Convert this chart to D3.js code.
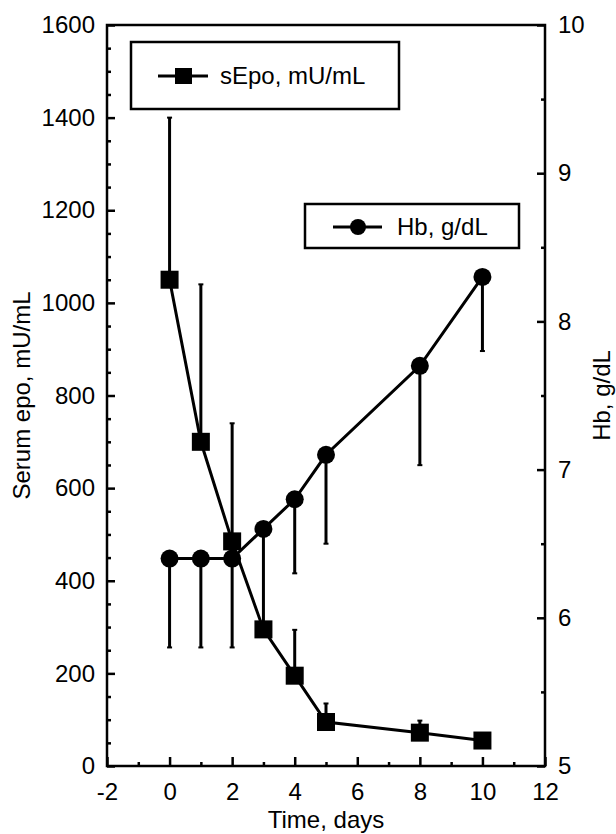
<!DOCTYPE html>
<html>
<head>
<meta charset="utf-8">
<script src="https://cdn.jsdelivr.net/npm/d3@7"></script>
<style>
  body { margin: 0; background: #fff; }
  svg { display: block; font-family: "Liberation Sans", Arial, Helvetica, sans-serif; }
  .axis text { font-size: 24px; fill: #000; }
  .axis line { stroke: #000; stroke-width: 2.5; }
</style>
</head>
<body>
<svg id="chart" width="616" height="834"></svg>
<script>
// time points (days) and the two measured series
const days = [0, 1, 2, 3, 4, 5, 8, 10];
const sEpo = [1050, 700, 485, 295, 195, 95, 72, 55];
const sEpoUpper = [1400, 1040, 740, null, 294, 135, 98, null];
const hb = [6.4, 6.4, 6.4, 6.6, 6.8, 7.1, 7.7, 8.3];
const hbLower = [5.8, 5.8, 5.8, 5.97, 6.3, 6.5, 7.03, 7.8];

const xTicks = [-2, 0, 2, 4, 6, 8, 10, 12];
const xMinor = [-1, 1, 3, 5, 7, 9, 11];
const epoTicks = [0, 200, 400, 600, 800, 1000, 1200, 1400, 1600];
const hbTicks = [5, 6, 7, 8, 9, 10];

const margin = { top: 25, right: 71, bottom: 68, left: 107 };
const W = 616, H = 834;

const svg = d3.select("#chart");

const x = d3.scaleLinear().domain([-2, 12]).range([margin.left, W - margin.right]);
const yEpo = d3.scaleLinear().domain([0, 1600]).range([H - margin.bottom, margin.top]);
const yHb = d3.scaleLinear().domain([5, 10]).range([H - margin.bottom, margin.top]);

const fmt = d => String(d);

// minor ticks first, majors on top
const minorEpo = d3.range(0, 1601, 50).filter(v => v % 200 !== 0);
const minorHb = d3.range(5.5, 10, 1);

svg.append("g").attr("class", "axis")
  .attr("transform", `translate(${margin.left},0)`)
  .call(d3.axisLeft(yEpo).tickValues(minorEpo).tickSize(-4).tickFormat(""))
  .call(g => g.select(".domain").remove());
svg.append("g").attr("class", "axis")
  .attr("transform", `translate(${margin.left},0)`)
  .call(d3.axisLeft(yEpo).tickValues(epoTicks).tickSize(-8).tickPadding(12).tickFormat(fmt))
  .call(g => g.select(".domain").remove());

svg.append("g").attr("class", "axis")
  .attr("transform", `translate(${W - margin.right},0)`)
  .call(d3.axisRight(yHb).tickValues(minorHb).tickSize(-4).tickFormat(""))
  .call(g => g.select(".domain").remove());
svg.append("g").attr("class", "axis")
  .attr("transform", `translate(${W - margin.right},0)`)
  .call(d3.axisRight(yHb).tickValues(hbTicks).tickSize(-8).tickPadding(13).tickFormat(fmt))
  .call(g => g.select(".domain").remove());

svg.append("g").attr("class", "axis")
  .attr("transform", `translate(0,${H - margin.bottom})`)
  .call(d3.axisBottom(x).tickValues(xMinor).tickSize(-4).tickFormat(""))
  .call(g => g.select(".domain").remove());
svg.append("g").attr("class", "axis")
  .attr("transform", `translate(0,${H - margin.bottom})`)
  .call(d3.axisBottom(x).tickValues(xTicks).tickSize(-9).tickPadding(17).tickFormat(fmt))
  .call(g => g.select(".domain").remove());

// plot frame
svg.append("rect")
  .attr("x", margin.left).attr("y", margin.top)
  .attr("width", W - margin.right - margin.left)
  .attr("height", H - margin.bottom - margin.top)
  .attr("fill", "none").attr("stroke", "#000").attr("stroke-width", 2.5);

// axis titles
const midY = (margin.top + H - margin.bottom) / 2;
svg.append("text")
  .attr("transform", `translate(30,${midY}) rotate(-90)`)
  .attr("text-anchor", "middle").attr("font-size", 24)
  .text("Serum epo, mU/mL");
svg.append("text")
  .attr("transform", `translate(610,${midY}) rotate(-90)`)
  .attr("text-anchor", "middle").attr("font-size", 24)
  .text("Hb, g/dL");
svg.append("text")
  .attr("x", (margin.left + W - margin.right) / 2).attr("y", 828)
  .attr("text-anchor", "middle").attr("font-size", 24)
  .text("Time, days");

const epoData = days.map((d, i) => ({ d, v: sEpo[i], hi: sEpoUpper[i] }));
const hbData = days.map((d, i) => ({ d, v: hb[i], lo: hbLower[i] }));

// error bars: sEpo goes up, Hb goes down
function errorBars(data, y, key) {
  const g = svg.append("g").attr("stroke", "#000");
  const rows = data.filter(p => p[key] != null);
  g.selectAll("line.bar").data(rows).join("line")
    .attr("class", "bar")
    .attr("x1", p => x(p.d)).attr("x2", p => x(p.d))
    .attr("y1", p => y(p.v)).attr("y2", p => y(p[key]))
    .attr("stroke-width", 3);
  g.selectAll("line.cap").data(rows).join("line")
    .attr("class", "cap")
    .attr("x1", p => x(p.d) - 2.5).attr("x2", p => x(p.d) + 2.5)
    .attr("y1", p => y(p[key])).attr("y2", p => y(p[key]))
    .attr("stroke-width", 2);
}
errorBars(epoData, yEpo, "hi");
errorBars(hbData, yHb, "lo");

// series lines
svg.append("path").datum(epoData)
  .attr("fill", "none").attr("stroke", "#000").attr("stroke-width", 3)
  .attr("d", d3.line().x(p => x(p.d)).y(p => yEpo(p.v)));
svg.append("path").datum(hbData)
  .attr("fill", "none").attr("stroke", "#000").attr("stroke-width", 3)
  .attr("d", d3.line().x(p => x(p.d)).y(p => yHb(p.v)));

// markers
const sq = 18;
svg.append("g").selectAll("rect").data(epoData).join("rect")
  .attr("x", p => x(p.d) - sq / 2).attr("y", p => yEpo(p.v) - sq / 2)
  .attr("width", sq).attr("height", sq).attr("fill", "#000");
svg.append("g").selectAll("circle").data(hbData).join("circle")
  .attr("cx", p => x(p.d)).attr("cy", p => yHb(p.v))
  .attr("r", 9).attr("fill", "#000");

// legends
const leg1 = svg.append("g");
leg1.append("rect").attr("x", 131).attr("y", 42).attr("width", 268).attr("height", 67)
  .attr("fill", "#fff").attr("stroke", "#000").attr("stroke-width", 2.5);
leg1.append("line").attr("x1", 158).attr("x2", 208).attr("y1", 76).attr("y2", 76)
  .attr("stroke", "#000").attr("stroke-width", 3);
leg1.append("rect").attr("x", 175).attr("y", 68).attr("width", 17).attr("height", 16).attr("fill", "#000");
leg1.append("text").attr("x", 220).attr("y", 84).attr("font-size", 24).text("sEpo, mU/mL");

const leg2 = svg.append("g");
leg2.append("rect").attr("x", 305).attr("y", 204).attr("width", 214).attr("height", 44)
  .attr("fill", "#fff").attr("stroke", "#000").attr("stroke-width", 2.5);
leg2.append("line").attr("x1", 333).attr("x2", 382).attr("y1", 227).attr("y2", 227)
  .attr("stroke", "#000").attr("stroke-width", 3);
leg2.append("circle").attr("cx", 358).attr("cy", 227).attr("r", 8).attr("fill", "#000");
leg2.append("text").attr("x", 397).attr("y", 235).attr("font-size", 24).text("Hb, g/dL");
</script>
</body>
</html>
